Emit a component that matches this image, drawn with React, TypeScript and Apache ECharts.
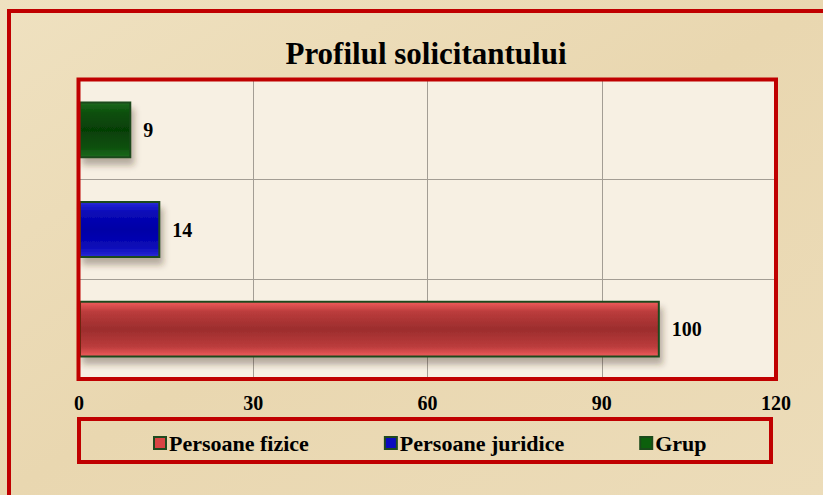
import React, { useEffect, useRef } from "react";
import * as echarts from "echarts";

const categories = ["Persoane fizice", "Persoane juridice", "Grup"];
const seriesNames = ["Persoane fizice", "Persoane juridice", "Grup"];
const fiziceValues = [100, "-", "-"];
const juridiceValues = ["-", 14, "-"];
const grupValues = ["-", "-", 9];
const xTicks = { min: 0, max: 120, interval: 30 };
const titleText = "Profilul solicitantului";

const FONT = "'Liberation Serif', 'Times New Roman', serif";

function vgrad(edge: string, mid: string, dark: string) {
  return new echarts.graphic.LinearGradient(0, 0, 0, 1, [
    { offset: 0, color: edge },
    { offset: 0.18, color: mid },
    { offset: 0.5, color: dark },
    { offset: 0.82, color: mid },
    { offset: 1, color: edge },
  ]);
}

export default function App() {
  const ref = useRef<HTMLDivElement>(null);
  useEffect(() => {
    if (!ref.current) return;
    const chart = echarts.init(ref.current, undefined, { renderer: "svg" });
    const shadow = {
      shadowColor: "rgba(60,40,20,0.35)",
      shadowBlur: 6,
      shadowOffsetX: 3,
      shadowOffsetY: 7,
    };
    const labelStyle = {
      show: true,
      position: "right" as const,
      distance: 12,
      color: "#000",
      fontFamily: FONT,
      fontWeight: "bold" as const,
      fontSize: 20,
    };
    const colors = [
      { c: vgrad("#f05c5c", "#bb3c3c", "#9c2d2d"), border: "#1f4a1f", legend: "#d94444" },
      { c: vgrad("#2a2ad8", "#0a0ab8", "#0000a6"), border: "#1f4a1f", legend: "#0a0ac0" },
      { c: vgrad("#1e6a1e", "#0c500c", "#063f06"), border: "#1a4a1a", legend: "#0c600c" },
    ];
    const datas = [fiziceValues, juridiceValues, grupValues];
    chart.setOption({
      animation: false,
      backgroundColor: new echarts.graphic.LinearGradient(0, 0, 1, 1, [
        { offset: 0, color: "#efe1c0" },
        { offset: 0.5, color: "#e9d7b0" },
        { offset: 1, color: "#ecdcb9" },
      ]),
      title: {
        text: titleText,
        left: 421,
        top: 33,
        textAlign: "center",
        textStyle: {
          fontFamily: FONT,
          fontWeight: "bold",
          fontSize: 31,
          color: "#000",
        },
      },
      graphic: [
        {
          type: "rect",
          z: 100,
          shape: { x: 9, y: 11, width: 840, height: 510 },
          style: { fill: "none", stroke: "#c00000", lineWidth: 4 },
          silent: true,
        },
        {
          type: "rect",
          z: 100,
          shape: { x: 79, y: 419, width: 692, height: 43 },
          style: { fill: "none", stroke: "#c00000", lineWidth: 4 },
          silent: true,
        },
        {
          type: "rect",
          z: 100,
          shape: { x: 78.5, y: 79.5, width: 697.5, height: 299.5 },
          style: { fill: "none", stroke: "#c00000", lineWidth: 4 },
          silent: true,
        },
      ],
      legend: {
        data: seriesNames.map((n, i) => ({
          name: n,
          itemStyle: {
            color: colors[i].legend,
            borderColor: colors[i].border,
            borderWidth: 2,
            shadowBlur: 0,
            shadowOffsetX: 0,
            shadowOffsetY: 0,
          },
        })),
        left: 148,
        top: 427,
        icon: "rect",
        itemWidth: 12,
        itemHeight: 12,
        itemGap: 75,
        textStyle: {
          fontFamily: FONT,
          fontWeight: "bold",
          fontSize: 22,
          color: "#000",
          padding: [0, 0, 0, -2],
        },
      },
      grid: {
        left: 79,
        top: 80,
        width: 697,
        height: 299,
        show: true,
        backgroundColor: "#f7f0e3",
        borderWidth: 0,
        containLabel: false,
      },
      xAxis: {
        type: "value",
        min: xTicks.min,
        max: xTicks.max,
        interval: xTicks.interval,
        axisLine: { show: false },
        axisTick: { show: false },
        splitLine: { show: true, lineStyle: { color: "#a39d94", width: 1 } },
        axisLabel: {
          margin: 14,
          color: "#000",
          fontFamily: FONT,
          fontWeight: "bold",
          fontSize: 20,
        },
      },
      yAxis: {
        type: "category",
        data: categories,
        axisLine: { show: false },
        axisTick: { show: false },
        axisLabel: { show: false },
        splitLine: { show: true, lineStyle: { color: "#a39d94", width: 1 } },
      },
      series: seriesNames.map((n, i) => ({
        name: n,
        type: "bar",
        stack: "all",
        barWidth: "57%",
        data: datas[i],
        itemStyle: {
          color: colors[i].c,
          borderColor: colors[i].border,
          borderWidth: 2,
          ...shadow,
        },
        label: labelStyle,
      })),
    });
    return () => chart.dispose();
  }, []);
  return (
    <div
      ref={ref}
      style={{ position: "fixed", left: 0, top: 0, width: 823, height: 495 }}
    />
  );
}
